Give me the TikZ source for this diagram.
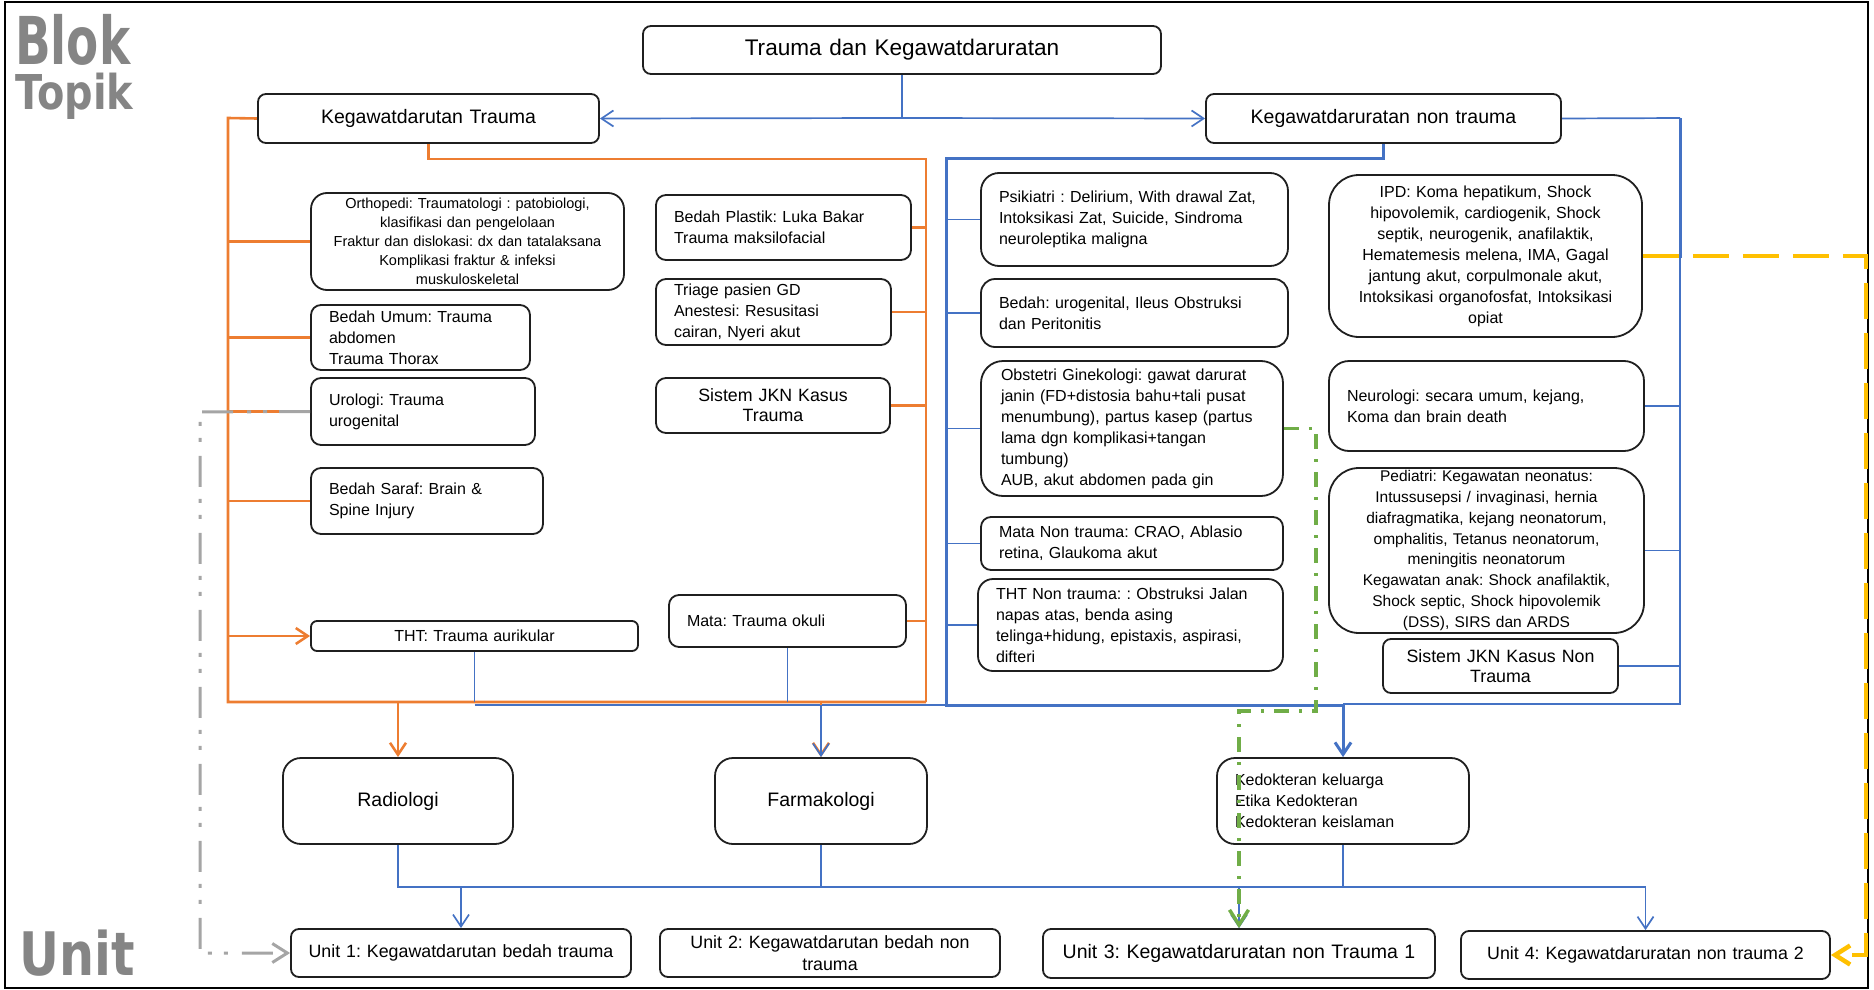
\documentclass[tikz,border=0pt]{standalone}
\usepackage{fontspec}
\setmainfont{Liberation Sans}
\newfontfamily\blokfont{DejaVu Sans}
\usetikzlibrary{arrows.meta}
\definecolor{blueC}{HTML}{4472C4}
\definecolor{orangeC}{HTML}{ED7D31}
\definecolor{yellowC}{HTML}{FFC000}
\definecolor{greenC}{HTML}{70AD47}
\definecolor{grayC}{HTML}{A5A5A5}
\pgfdeclarelayer{bg}
\pgfsetlayers{bg,main}
\tikzset{
  boxst/.style={draw=black!88, line width=1.8pt, fill=white, inner sep=0pt, align=center},
  lft/.style={align=left, text width=\bxT pt},
  f16/.style={font=\fontsize{16}{21}\selectfont},
  f145/.style={font=\fontsize{14.5}{19}\selectfont},
  f155/.style={font=\fontsize{15.5}{20.8}\selectfont},
  f178/.style={font=\fontsize{17.8}{20}\selectfont},
  f195/.style={font=\fontsize{19.5}{23}\selectfont},
  f226/.style={font=\fontsize{22.6}{27}\selectfont},
  bl/.style={draw=blueC, line width=1.7pt},
  blk/.style={draw=blueC, line width=3pt},
  org/.style={draw=orangeC, line width=2.6pt},
  barb/.style={-{Straight Barb[length=12pt,width=16pt]}},
  bigbarb/.style={-{Straight Barb[length=15pt,width=19pt]}},
  yel/.style={draw=yellowC, line width=4.5pt, dash pattern=on 36pt off 14pt},
  grn/.style={draw=greenC, line width=3.5pt, dash pattern=on 15pt off 10pt on 3pt off 10pt},
  gry/.style={draw=grayC, line width=3pt, dash pattern=on 31pt off 12pt on 4pt off 12pt on 4pt off 14pt},
  blokst/.style={inner sep=0pt, text=black!48, text depth=0pt},
}
\newcommand\bxn[8]{%
  \pgfmathsetmacro\bxW{#4-#2}%
  \pgfmathsetmacro\bxH{#5-#3}%
  \pgfmathsetmacro\bxX{(#2+#4)/2}%
  \pgfmathsetmacro\bxY{(#3+#5)/2}%
  \pgfmathsetmacro\bxT{#4-#2-36}%
  \pgfmathsetmacro\bxC{#4-#2-10}%
  \node[boxst, rounded corners=#6pt, minimum width=\bxW pt, minimum height=\bxH pt, text width=\bxC pt, #7] (#1) at (\bxX,\bxY) {#8};}
\newcommand\bloktopik{%
  \vbox{\baselineskip=46pt\lineskiplimit=-200pt\lineskip=0pt
    \hbox{\scalebox{0.71}[1]{\blokfont\bfseries\fontsize{66}{66}\selectfont Blok}}
    \hbox{\scalebox{0.83}[1]{\blokfont\bfseries\fontsize{48}{48}\selectfont Topik}}}}
\begin{document}
\frenchspacing
\begin{tikzpicture}[x=1pt,y=-1pt]
\useasboundingbox (0,0) rectangle (1874,990);
\draw[line width=2.5pt] (5,2) rectangle (1868,988);

% big labels
\node[blokst, anchor=base west] (blok) at (15,110) {\bloktopik};
\node[blokst, anchor=base west, xscale=0.82, font=\blokfont\bfseries\fontsize{60}{60}\selectfont] (unit) at (19,975) {Unit};

% top level
\bxn{title}{643}{26}{1161}{74}{8}{f226}{Trauma dan Kegawatdaruratan}
\bxn{kt}{258}{94}{599}{143}{8}{f195}{Kegawatdarutan Trauma}
\bxn{knt}{1206}{94}{1561}{143}{8}{f195}{Kegawatdaruratan non trauma}

% trauma left column
\bxn{ortho}{311}{193}{624}{290}{16}{f145}{Orthopedi: Traumatologi : patobiologi,\\ klasifikasi dan pengelolaan\\ Fraktur dan dislokasi: dx dan tatalaksana\\ Komplikasi fraktur \& infeksi\\ muskuloskeletal}
\bxn{bumum}{311}{305}{530}{370}{10}{f16,lft}{Bedah Umum: Trauma\\ abdomen\\ Trauma Thorax}
\bxn{urol}{311}{378}{535}{445}{10}{f16,lft}{Urologi: Trauma\\ urogenital}
\bxn{bsaraf}{311}{468}{543}{534}{10}{f16,lft}{Bedah Saraf: Brain \&\\ Spine Injury}
\bxn{tht}{311}{621}{638}{651}{6}{f16}{THT: Trauma aurikular}

% trauma right column
\bxn{bplast}{656}{195}{911}{260}{10}{f16,lft}{Bedah Plastik: Luka Bakar\\ Trauma maksilofacial}
\bxn{triage}{656}{279}{891}{345}{10}{f16,lft}{Triage pasien GD\\ Anestesi: Resusitasi\\ cairan, Nyeri akut}
\bxn{jknt}{656}{378}{890}{433}{10}{f178}{Sistem JKN Kasus\\ Trauma}
\bxn{mata}{669}{595}{906}{647}{10}{f16,lft}{Mata: Trauma okuli}

% non trauma middle column
\bxn{psik}{981}{173}{1288}{266}{18}{f16,lft}{Psikiatri : Delirium, With drawal Zat,\\ Intoksikasi Zat, Suicide, Sindroma\\ neuroleptika maligna}
\bxn{bedah}{981}{279}{1288}{347}{14}{f16,lft}{Bedah: urogenital, Ileus Obstruksi\\ dan Peritonitis}
\bxn{obst}{981}{361}{1283}{496}{22}{f16,lft,text width=262pt}{Obstetri Ginekologi: gawat darurat\\ janin (FD+distosia bahu+tali pusat\\ menumbung), partus kasep (partus\\ lama dgn komplikasi+tangan\\ tumbung)\\ AUB, akut abdomen pada gin}
\bxn{mata2}{981}{517}{1283}{570}{10}{f16,lft}{Mata Non trauma: CRAO, Ablasio\\ retina, Glaukoma akut}
\bxn{thtnt}{978}{579}{1283}{671}{15}{f16,lft}{THT Non trauma: : Obstruksi Jalan\\ napas atas, benda asing\\ telinga+hidung, epistaxis, aspirasi,\\ difteri}

% non trauma right column
\bxn{ipd}{1329}{175}{1642}{337}{30}{f16}{IPD: Koma hepatikum, Shock\\ hipovolemik, cardiogenik, Shock\\ septik, neurogenik, anafilaktik,\\ Hematemesis melena, IMA, Gagal\\ jantung akut, corpulmonale akut,\\ Intoksikasi organofosfat, Intoksikasi\\ opiat}
\bxn{neuro}{1329}{361}{1644}{451}{20}{f16,lft}{Neurologi: secara umum, kejang,\\ Koma dan brain death}
\bxn{pedi}{1329}{468}{1644}{633}{30}{f155}{Pediatri: Kegawatan neonatus:\\ Intussusepsi / invaginasi, hernia\\ diafragmatika, kejang neonatorum,\\ omphalitis, Tetanus neonatorum,\\ meningitis neonatorum\\ Kegawatan anak: Shock anafilaktik,\\ Shock septic, Shock hipovolemik\\ (DSS), SIRS dan ARDS}
\bxn{jknnt}{1383}{639}{1618}{693}{8}{f178}{Sistem JKN Kasus Non\\ Trauma}

% middle row
\bxn{rad}{283}{758}{513}{844}{18}{f195}{Radiologi}
\bxn{farm}{715}{758}{927}{844}{18}{f195}{Farmakologi}
\bxn{kedok}{1217}{758}{1469}{844}{18}{f16,lft}{Kedokteran keluarga\\ Etika Kedokteran\\ Kedokteran keislaman}

% units
\bxn{u1}{291}{929}{631}{977}{8}{f178}{Unit 1: Kegawatdarutan bedah trauma}
\bxn{u2}{660}{929}{1000}{977}{8}{f178,font=\fontsize{17.8}{22}\selectfont}{Unit 2: Kegawatdarutan bedah non\\ trauma}
\bxn{u3}{1043}{929}{1435}{978}{8}{f195}{Unit 3: Kegawatdaruratan non Trauma 1}
\bxn{u4}{1461}{931}{1830}{979}{8}{f178}{Unit 4: Kegawatdaruratan non trauma 2}

% junction coordinates
\coordinate (tJ) at (902,118);
\coordinate (oLt) at (228,118);
\coordinate (oLb) at (228,702);
\coordinate (oRt) at (926,159);
\coordinate (oRb) at (926,702);
\coordinate (bLt) at (946,158);
\coordinate (bJ) at (946,705);
\coordinate (bRt) at (1680,118);
\coordinate (bRb) at (1680,704);
\coordinate (bb) at (398,887);
\coordinate (yR) at (1866,256);
\coordinate (gA) at (1316,711);
\coordinate (gB) at (1239,711);
\coordinate (gy) at (200,412);

\begin{pgfonlayer}{bg}
% title split
\draw[bl] (title.south) -- (tJ);
\draw[bl, barb] (tJ) -- (kt.east);
\draw[bl, barb] (tJ) -- (knt.west);
% orange trauma bracket
\draw[org] (kt.west) -- (oLt) -- (oLb) -- (oRb);
\draw[org] (kt.south) -- (kt.south |- oRt) -- (oRt) -- (oRb);
\draw[org] (oLt |- ortho.west) -- (ortho.west);
\draw[org] (oLt |- bumum.west) -- (bumum.west);
\draw[org] (oLt |- urol.west) -- (urol.west);
\draw[org] (oLt |- bsaraf.west) -- (bsaraf.west);
\draw[org, barb] (oLt |- tht.west) -- (tht.west);
\draw[org] (oRt |- bplast.east) -- (bplast.east);
\draw[org] (oRt |- triage.east) -- (triage.east);
\draw[org] (oRt |- jknt.east) -- (jknt.east);
\draw[org] (oRt |- mata.east) -- (mata.east);
\draw[bl] (tht.south) -- (tht.south |- oRb);
\draw[bl] (mata.south) -- (mata.south |- oRb);
\draw[bl] (tht.south |- bJ) -- (bJ);
\draw[org, barb] (rad.north |- oRb) -- (rad.north);
\draw[org, barb] (farm.north |- oRb) -- (farm.north);
\draw[bl, barb] (farm.north |- bJ) -- (farm.north);
% blue non trauma bracket
\draw[blk, barb] (knt.south) -- (knt.south |- bLt) -- (bLt) -- (bJ) -- (bJ -| kedok.north) -- (kedok.north);
\draw[bl] (bLt |- psik.west) -- (psik.west);
\draw[bl] (bLt |- bedah.west) -- (bedah.west);
\draw[bl] (bLt |- obst.west) -- (obst.west);
\draw[bl] (bLt |- mata2.west) -- (mata2.west);
\draw[bl] (bLt |- thtnt.west) -- (thtnt.west);
\draw[bl] (knt.east) -- (bRt);
\draw[blk] (bRt) -- (bRt |- ipd.east) -- (ipd.east);
\draw[bl] (bRt |- ipd.east) -- (bRb) -- (bRb -| kedok.north);
\draw[bl] (bRt |- neuro.east) -- (neuro.east);
\draw[bl] (bRt |- pedi.east) -- (pedi.east);
\draw[bl] (bRt |- jknnt.east) -- (jknnt.east);
% bottom blue distribution
\draw[bl, line width=2.2pt] (rad.south) -- (bb) -- (bb -| u4.north);
\draw[bl] (farm.south) -- (farm.south |- bb);
\draw[bl] (kedok.south) -- (kedok.south |- bb);
\draw[bl, barb] (u1.north |- bb) -- (u1.north);
\draw[bl, barb] (u3.north |- bb) -- (u3.north);
\draw[bl, barb] (u4.north |- bb) -- (u4.north);
\end{pgfonlayer}

% dashed links on top
\draw[gry, bigbarb] (urol.west) -- (gy) -- (gy |- u1.west) -- (u1.west);
\draw[grn, bigbarb] (obst.east) -- (obst.east -| gA) -- (gA) -- (gB) -- (u3.north);
\draw[yel, bigbarb] (ipd.east) -- (yR) -- (yR |- u4.east) -- (u4.east);
\end{tikzpicture}
\end{document}
